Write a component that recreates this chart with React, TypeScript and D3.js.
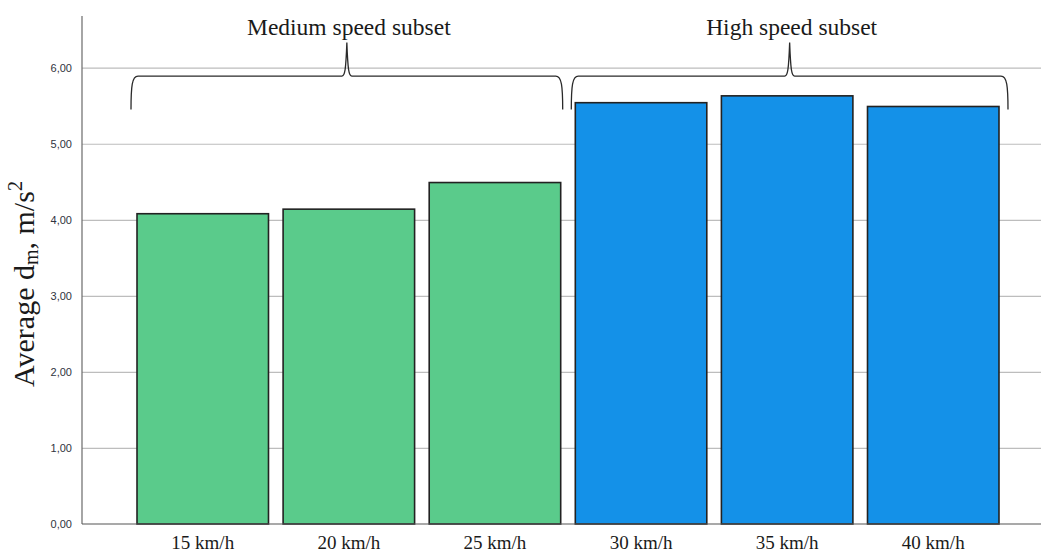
import { useRef, useEffect } from 'react';
import * as d3 from 'd3';

const categories = ['15 km/h', '20 km/h', '25 km/h', '30 km/h', '35 km/h', '40 km/h'];
const values = [4.08, 4.14, 4.49, 5.54, 5.63, 5.49];
const subsets = ['medium', 'medium', 'medium', 'high', 'high', 'high'];
const yTicks = [0, 1, 2, 3, 4, 5, 6];
const groups = [
  { label: 'Medium speed subset', from: '15 km/h', to: '25 km/h', padL: 6, padR: 2 },
  { label: 'High speed subset', from: '30 km/h', to: '40 km/h', padL: 4, padR: 9 },
];
// brace levels in data units
const braceEnd = 5.45;
const braceBar = 5.89;
const braceTip = 6.33;

const colors: Record<string, string> = { medium: '#5ACB8B', high: '#1491E8' };

const W = 1041;
const H = 551;

export default function App() {
  const ref = useRef<SVGSVGElement | null>(null);

  useEffect(() => {
    document.body.style.margin = '0';
    const svg = d3.select(ref.current);
    svg.selectAll('*').remove();

    const left = 82, right = 1041, bottom = 524, top = 16;

    const x = d3.scaleBand<string>()
      .domain(categories)
      .range([left, right])
      .paddingInner(0.1)
      .paddingOuter(0.332)
      .align(0.567);

    const y = d3.scaleLinear().domain([0, 6.68]).range([bottom, top]);

    const fmt = d3.formatLocale({ decimal: ',', thousands: '.', grouping: [3], currency: ['', ''] }).format('.2f');

    // grid + tick labels
    const g = svg.append('g');
    g.append('g')
      .attr('transform', `translate(${left},0)`)
      .call(d3.axisLeft(y).tickValues(yTicks).tickSize(0).tickPadding(10).tickFormat(v => fmt(v as number)))
      .call(ax => ax.select('.domain').remove())
      .call(ax => ax.selectAll('.tick text')
        .attr('fill', '#2f3440')
        .attr('font-size', 11)
        .attr('font-family', 'Arial, "Liberation Sans", sans-serif'))
      .call(ax => ax.selectAll('.tick').filter(d => (d as number) > 0).append('line')
        .attr('x1', 0).attr('x2', right - left)
        .attr('stroke', '#bdbdbd').attr('stroke-width', 1.2));

    // bars
    g.selectAll('rect.bar')
      .data(categories)
      .join('rect')
      .attr('class', 'bar')
      .attr('x', d => x(d)!)
      .attr('width', x.bandwidth())
      .attr('y', (_, i) => y(values[i]))
      .attr('height', (_, i) => y(0) - y(values[i]))
      .attr('fill', (_, i) => colors[subsets[i]])
      .attr('stroke', '#222')
      .attr('stroke-width', 1.6);

    // axis lines
    g.append('line')
      .attr('x1', left).attr('x2', left).attr('y1', top).attr('y2', bottom)
      .attr('stroke', '#6a6a6a').attr('stroke-width', 1.2);
    g.append('line')
      .attr('x1', left).attr('x2', right).attr('y1', bottom).attr('y2', bottom)
      .attr('stroke', '#555').attr('stroke-width', 1.2);

    // category labels
    g.append('g')
      .attr('transform', `translate(0,${bottom})`)
      .call(d3.axisBottom(x).tickSize(0).tickPadding(0))
      .call(ax => ax.select('.domain').remove())
      .call(ax => ax.selectAll('.tick text')
        .attr('dy', 0).attr('y', 24.5)
        .attr('fill', '#1a1a1a')
        .attr('font-size', 19)
        .attr('font-family', '"Liberation Serif", "Times New Roman", serif'));

    // braces
    groups.forEach(gr => {
      const x0 = x(gr.from)! - gr.padL;
      const x1 = x(gr.to)! + x.bandwidth() + gr.padR;
      const xm = (x0 + x1) / 2;
      const yE = y(braceEnd), yB = y(braceBar), yT = y(braceTip);
      const r = 5;
      const path = d3.path();
      path.moveTo(x0, yE);
      path.bezierCurveTo(x0, yB + 10, x0 + 1, yB, x0 + r + 2, yB);
      path.lineTo(xm - r, yB);
      path.bezierCurveTo(xm - 2, yB, xm - 1, yB - 6, xm, yT);
      path.bezierCurveTo(xm + 1, yB - 6, xm + 2, yB, xm + r, yB);
      path.lineTo(x1 - r - 2, yB);
      path.bezierCurveTo(x1 - 1, yB, x1, yB + 10, x1, yE);
      g.append('path')
        .attr('d', path.toString())
        .attr('fill', 'none')
        .attr('stroke', '#2a2a2a')
        .attr('stroke-width', 1.3);
      g.append('text')
        .attr('x', xm + 2)
        .attr('y', yT - 8)
        .attr('text-anchor', 'middle')
        .attr('fill', '#1a1a1a')
        .attr('font-size', 23.5)
        .attr('font-family', '"Liberation Serif", "Times New Roman", serif')
        .text(gr.label);
    });

    // y axis title
    const t = g.append('text')
      .attr('transform', `translate(34,${(top + bottom) / 2 + 14}) rotate(-90)`)
      .attr('text-anchor', 'middle')
      .attr('fill', '#1a1a1a')
      .attr('font-size', 30)
      .attr('font-family', '"Liberation Serif", "Times New Roman", serif');
    t.append('tspan').text('Average d');
    t.append('tspan').attr('font-size', 20).attr('dy', 4).text('m');
    t.append('tspan').attr('dy', -4).text(', m/s');
    t.append('tspan').attr('font-size', 20).attr('dy', -12).text('2');
  }, []);

  return <svg ref={ref} width={W} height={H} style={{ display: 'block', background: '#fff' }} />;
}
